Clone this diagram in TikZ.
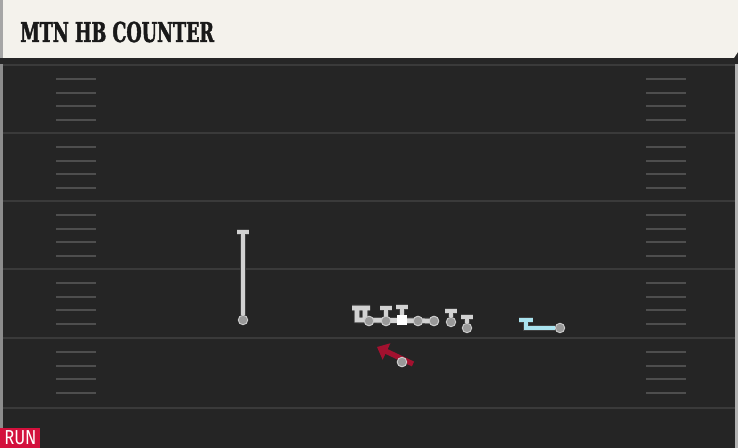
\documentclass[tikz,border=0pt]{standalone}
\usepackage{fontspec}
\usetikzlibrary{calc}
\usetikzlibrary{arrows.meta}

\newfontfamily\titlefont{DejaVu Serif Bold}[FakeStretch=0.64, FakeBold=1.6]
\newfontfamily\tagfont{Fira Sans}[FakeStretch=0.82]

\definecolor{turf}{HTML}{252525}
\definecolor{turfline}{HTML}{3A3A3A}
\definecolor{cream}{HTML}{F4F2EC}
\definecolor{routegrey}{HTML}{D2D2D2}
\definecolor{routeblue}{HTML}{A9E3EF}
\definecolor{runred}{HTML}{A3112F}
\definecolor{tagred}{HTML}{D3103C}

\tikzset{
  fieldline/.style={draw=turfline, line width=1.1pt},
  hash/.style={draw=turfline!90!white, line width=0.9pt},
  player/.style={circle, fill=black!40, draw=black!20, line width=0.5pt, inner sep=0pt, minimum size=5.4pt},
  centre/.style={rectangle, fill=white, inner sep=0pt, minimum size=5.8pt},
  route/.style={draw=#1, line width=2.7pt, preaction={draw=black!75, line width=3.7pt}},
  run/.style={draw=runred, line width=3pt}
}

\begin{document}
\begin{tikzpicture}[x=0.02cm,y=-0.02cm]

\useasboundingbox (0,0) rectangle (738,448);
\fill[turf] (0,0) rectangle (738,448);
\fill[black!45] (0,60) rectangle (3,448);
\fill[black!30] (735,60) rectangle (738,448);

% title bar
\fill[black!85] (0,56) rectangle (738,64);
\fill[cream] (0,0) -- (738,0) -- (738,52) -- (734,58) -- (0,58) -- cycle;
\fill[black!35] (0,0) rectangle (3,58);
\node[anchor=base west, inner sep=0pt, text=black!90] (title) at (20,42)
  {\titlefont\fontsize{15.6pt}{16pt}\selectfont MTN HB COUNTER};

% field
\foreach \y in {65,133,201,269,338,408}
  \draw[fieldline] (3,\y) -- (735,\y);
\foreach \b in {65,133,201,269,338}
  \foreach \o in {14,28,41,55} {
    \draw[hash] (56,\b+\o) -- (96,\b+\o);
    \draw[hash] (646,\b+\o) -- (686,\b+\o);
  }

% routes
\coordinate (wrT) at (243,232);
\coordinate (pullA) at (357,308);
\coordinate (pullB) at (365,308);
\coordinate (pullL) at (357,320);
\coordinate (lgT) at (386,308);
\coordinate (cT) at (402,307);
\coordinate (teT) at (451,311);
\coordinate (teBT) at (467,317);
\coordinate (slotC) at (526,328);
\coordinate (slotT) at (526,320);
\coordinate (hbS) at (413,364);
\coordinate (hbE) at (377,347);

\node[player] (wr) at (243,320) {};
\node[player] (lt) at (369,321) {};
\node[player] (lg) at (386,321) {};
\node[centre] (c) at (402,320) {};
\node[player] (rg) at (418,321) {};
\node[player] (rt) at (434,321) {};
\node[player] (te) at (451,322) {};
\node[player] (teB) at (467,328) {};
\node[player] (slot) at (560,328) {};
\node[player] (hb) at (402,362) {};

\draw[route=routegrey] (wr) -- (wrT) ($(wrT)+(-6,0)$) -- ($(wrT)+(6,0)$);
\draw[route=routegrey] (rt.center) -- (pullL) -- (pullA) ($(pullA)+(-5,0)$) -- ($(pullA)+(5,0)$)
  ($(pullB)+(0,12)$) -- (pullB) ($(pullB)+(-4,0)$) -- ($(pullB)+(5,0)$);
\draw[route=routegrey] (lg.center) -- (lgT) ($(lgT)+(-6,0)$) -- ($(lgT)+(6,0)$);
\draw[route=routegrey] (c.center) -- (cT) ($(cT)+(-6,0)$) -- ($(cT)+(6,0)$);
\draw[route=routegrey] (te) -- (teT) ($(teT)+(-6,0)$) -- ($(teT)+(6,0)$);
\draw[route=routegrey] (teB) -- (teBT) ($(teBT)+(-6,0)$) -- ($(teBT)+(6,0)$);
\draw[route=routeblue] (slot) -- (slotC) -- (slotT) ($(slotT)+(-7,0)$) -- ($(slotT)+(7,0)$);
\draw[run, -{Triangle[length=6pt,width=10pt]}] (hbS) -- (hbE);

\node[player] at (lt) {};
\node[player] at (lg) {};
\node[centre] at (c) {};
\node[player] at (rg) {};
\node[player] at (rt) {};
\node[player] at (hb) {};

% tag
\fill[tagred] (0,428) rectangle (40,448);
\node[anchor=base west, inner sep=0pt, text=white] (tag) at (4,445)
  {\tagfont\fontsize{11.5pt}{11.5pt}\selectfont RUN};

\end{tikzpicture}
\end{document}
